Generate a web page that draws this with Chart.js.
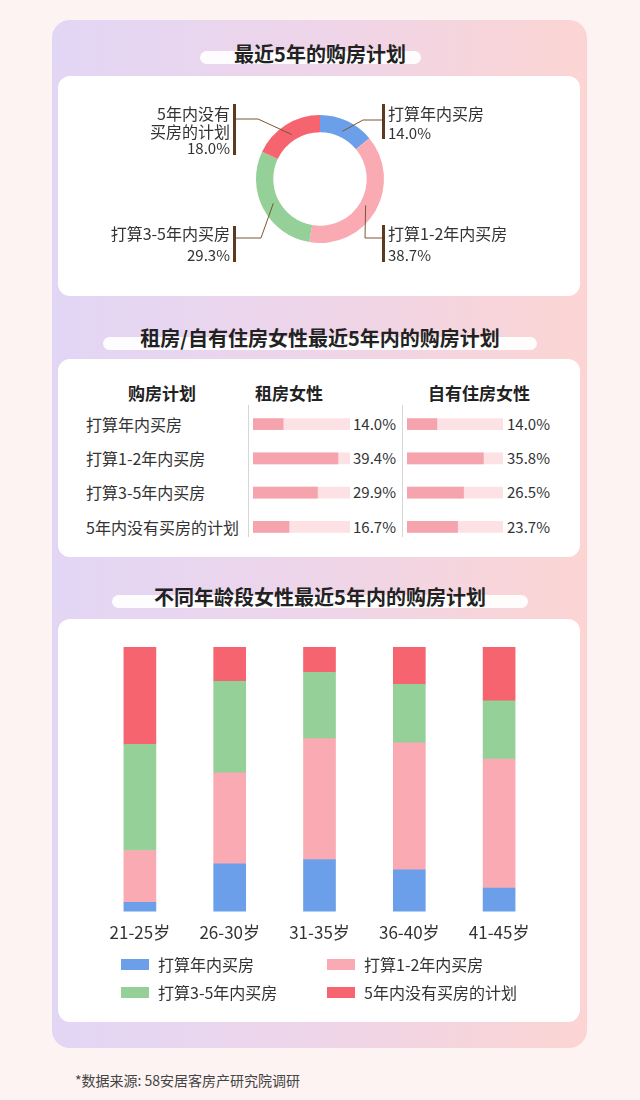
<!DOCTYPE html>
<html><head><meta charset="utf-8">
<script src="https://cdn.jsdelivr.net/npm/chart.js@4.4.1/dist/chart.umd.min.js"></script>
<style>
html,body{margin:0;padding:0;width:640px;height:1100px;background:#fdf3f2;font-family:"Noto Sans CJK SC","Noto Sans",sans-serif;color:#333;overflow:hidden;position:relative}
#panel{position:absolute;left:52px;top:20px;width:535px;height:1028px;border-radius:18px;background:linear-gradient(90deg,#e2d6f5 0%,#eed5e9 50%,#fcd5d3 100%)}
.card{position:absolute;left:58px;width:522px;background:#fff;border-radius:12px}
.pill{position:absolute;height:13px;background:rgba(255,255,255,0.92);border-radius:7px}
.title{position:absolute;left:0;width:640px;text-align:center;font-size:20px;font-weight:bold;color:#222;line-height:24px;white-space:nowrap}
.lbl{position:absolute;font-size:16px;line-height:20px;white-space:nowrap;color:#333}
.pct{font-size:15px}
.lr{text-align:right}
.vbar{position:absolute;width:3px;background:#5b3a1f}
.th{position:absolute;font-size:17px;font-weight:bold;line-height:22px;color:#222;white-space:nowrap}
.sep{position:absolute;width:1px;background:#d6d6d6}
.lg{position:absolute;font-size:16px;line-height:22px;color:#333;white-space:nowrap}
.lgbox{position:absolute;width:28px;height:11px}
canvas{position:absolute}
</style></head>
<body>
<div id="panel"></div>

<div class="pill" style="left:200px;top:51px;width:221px"></div>
<div class="title" style="top:42px">最近5年的购房计划</div>
<div class="card" style="top:76px;height:220px"></div>

<div class="pill" style="left:103px;top:337px;width:434px"></div>
<div class="title" style="top:326px">租房/自有住房女性最近5年内的购房计划</div>
<div class="card" style="top:359px;height:198px"></div>

<div class="pill" style="left:112px;top:595px;width:416px"></div>
<div class="title" style="top:585px">不同年龄段女性最近5年内的购房计划</div>
<div class="card" style="top:619px;height:403px"></div>

<canvas id="donut" width="520" height="178" style="left:60px;top:90px"></canvas>
<div id="donutLabels"></div>

<div class="th" style="left:128px;top:382px">购房计划</div>
<div class="th" style="left:255px;top:382px">租房女性</div>
<div class="th" style="left:428px;top:382px">自有住房女性</div>
<div class="sep" style="left:248px;top:405px;height:132px"></div>
<div class="sep" style="left:402px;top:405px;height:132px"></div>
<div id="tableText"></div>
<canvas id="rentBars" width="97" height="137" style="left:253px;top:407px"></canvas>
<canvas id="ownBars" width="96" height="137" style="left:407px;top:407px"></canvas>

<canvas id="stack" width="520" height="314" style="left:60px;top:640px"></canvas>
<div id="legend"></div>

<div class="lbl" style="left:75px;top:1070px;font-size:14px;color:#444">*数据来源: 58安居客房产研究院调研</div>

<script>
// ---------- data ----------
const planLabels = ["打算年内买房", "打算1-2年内买房", "打算3-5年内买房", "5年内没有买房的计划"];
const planColors = ["#6c9fe9", "#f9aab3", "#94d098", "#f6646f"];
const overallShare = [14.0, 38.7, 29.3, 18.0];

const rentShare = [14.0, 39.4, 29.9, 16.7];
const ownShare = [14.0, 35.8, 26.5, 23.7];
const tableTrackMax = [45, 45, 45, 45];

const ageGroups = ["21-25岁", "26-30岁", "31-35岁", "36-40岁", "41-45岁"];
const ageWithinYear = [3.5, 18.1, 19.7, 15.8, 8.9];
const age1to2Years = [19.6, 34.3, 45.7, 48.0, 48.7];
const age3to5Years = [40.1, 34.6, 25.0, 22.1, 22.1];
const ageNoPlan = [36.8, 13.0, 9.6, 14.1, 20.3];

const FONT = '"Noto Sans CJK SC","Noto Sans",sans-serif';
Chart.defaults.font.family = FONT;
Chart.defaults.animation = false;

// ---------- donut ----------
const donutLabelLayout = [
  {side: "right", x: 388, lines: [113, 133], barX: 382, barY: [104, 139], elbowX: 363, lineY: 120},
  {side: "right", x: 388, lines: [233, 255], barX: 382, barY: [225, 262], elbowX: 365, lineY: 238},
  {side: "left", x: 230, lines: [233, 255], barX: 233, barY: [226, 262], elbowX: 261, lineY: 238},
  {side: "left", x: 230, lines: [113, 131, 148], barX: 233, barY: [104, 155], elbowX: 258, lineY: 119}
];
const donutLabelText = [
  ["打算年内买房"], ["打算1-2年内买房"], ["打算3-5年内买房"], ["5年内没有", "买房的计划"]
];
const DONUT_LEFT = 60, DONUT_TOP = 90;

const leaderPlugin = {
  id: "leaders",
  afterDatasetsDraw(chart) {
    const ctx = chart.ctx;
    const meta = chart.getDatasetMeta(0);
    ctx.save();
    ctx.strokeStyle = "#7a5634";
    ctx.lineWidth = 1;
    meta.data.forEach((arc, i) => {
      const p = arc.getProps(["x", "y", "startAngle", "endAngle", "innerRadius", "outerRadius"], true);
      const a = (p.startAngle + p.endAngle) / 2;
      const r = p.innerRadius + 6;
      const px = p.x + Math.cos(a) * r, py = p.y + Math.sin(a) * r;
      const L = donutLabelLayout[i];
      ctx.beginPath();
      ctx.moveTo(px, py);
      ctx.lineTo(L.elbowX - DONUT_LEFT, L.lineY - DONUT_TOP);
      ctx.lineTo(L.barX + 1.5 - DONUT_LEFT, L.lineY - DONUT_TOP);
      ctx.stroke();
    });
    ctx.restore();
  }
};

new Chart(document.getElementById("donut"), {
  type: "doughnut",
  data: {labels: planLabels, datasets: [{data: overallShare, backgroundColor: planColors, borderWidth: 0}]},
  options: {
    responsive: false, cutout: "73%", rotation: 0,
    layout: {padding: {top: 25, bottom: 25}},
    plugins: {legend: {display: false}, tooltip: {enabled: false}}
  },
  plugins: [leaderPlugin]
});

(function () {
  const host = document.getElementById("donutLabels");
  donutLabelLayout.forEach((L, i) => {
    const texts = donutLabelText[i].concat([overallShare[i].toFixed(1) + "%"]);
    texts.forEach((t, k) => {
      const d = document.createElement("div");
      d.className = "lbl" + (L.side === "left" ? " lr" : "") + (k === texts.length - 1 ? " pct" : "");
      d.textContent = t;
      d.style.top = (L.lines[k] - 10) + "px";
      if (L.side === "left") d.style.right = (640 - L.x) + "px"; else d.style.left = L.x + "px";
      host.appendChild(d);
    });
    const b = document.createElement("div");
    b.className = "vbar";
    b.style.left = L.barX + "px";
    b.style.top = L.barY[0] + "px";
    b.style.height = (L.barY[1] - L.barY[0]) + "px";
    host.appendChild(b);
  });
})();

// ---------- table bars ----------
function miniBars(id, values) {
  return new Chart(document.getElementById(id), {
    type: "bar",
    data: {
      labels: planLabels,
      datasets: [
        {data: values, backgroundColor: "#f5a4ad", barThickness: 11, grouped: false, order: 0},
        {data: tableTrackMax, backgroundColor: "#fde2e5", barThickness: 11, grouped: false, order: 1}
      ]
    },
    options: {
      responsive: false, indexAxis: "y",
      layout: {padding: 0},
      scales: {x: {display: false, min: 0, max: 45}, y: {display: false}},
      plugins: {legend: {display: false}, tooltip: {enabled: false}}
    }
  });
}
miniBars("rentBars", rentShare);
miniBars("ownBars", ownShare);

(function () {
  const host = document.getElementById("tableText");
  const rowY = [424, 458, 492, 527];
  planLabels.forEach((lab, i) => {
    const a = document.createElement("div");
    a.className = "lbl"; a.textContent = lab;
    a.style.left = "86px"; a.style.top = (rowY[i] - 10) + "px";
    host.appendChild(a);
    const b = document.createElement("div");
    b.className = "lbl lr pct"; b.textContent = rentShare[i].toFixed(1) + "%";
    b.style.right = (640 - 396) + "px"; b.style.top = (rowY[i] - 10) + "px";
    host.appendChild(b);
    const c = document.createElement("div");
    c.className = "lbl lr pct"; c.textContent = ownShare[i].toFixed(1) + "%";
    c.style.right = (640 - 550) + "px"; c.style.top = (rowY[i] - 10) + "px";
    host.appendChild(c);
  });
})();

// ---------- stacked bars ----------
const stackSeries = [ageWithinYear, age1to2Years, age3to5Years, ageNoPlan];
const stackChart = new Chart(document.getElementById("stack"), {
  type: "bar",
  data: {
    labels: ageGroups,
    datasets: stackSeries.map((s, i) => ({
      label: planLabels[i], data: s, backgroundColor: planColors[i], barThickness: 32, borderWidth: 0
    }))
  },
  options: {
    responsive: false,
    layout: {padding: {top: 7, left: 35, right: 36, bottom: 0}},
    scales: {
      x: {stacked: true, grid: {display: false, drawTicks: false}, border: {display: false},
          ticks: {padding: 11, color: "#333", font: {size: 17, family: FONT}}},
      y: {stacked: true, display: false, min: 0, max: 100}
    },
    plugins: {legend: {display: false}, tooltip: {enabled: false}}
  }
});

(function () {
  const host = document.getElementById("legend");
  const pos = [[121, 964], [327, 964], [121, 992], [327, 992]];
  stackChart.data.datasets.forEach((ds, i) => {
    const box = document.createElement("div");
    box.className = "lgbox";
    box.style.background = ds.backgroundColor;
    box.style.left = pos[i][0] + "px"; box.style.top = (pos[i][1] - 5.5) + "px";
    host.appendChild(box);
    const t = document.createElement("div");
    t.className = "lg"; t.textContent = ds.label;
    t.style.left = (pos[i][0] + 37) + "px"; t.style.top = (pos[i][1] - 11) + "px";
    host.appendChild(t);
  });
})();
</script>
</body></html>
